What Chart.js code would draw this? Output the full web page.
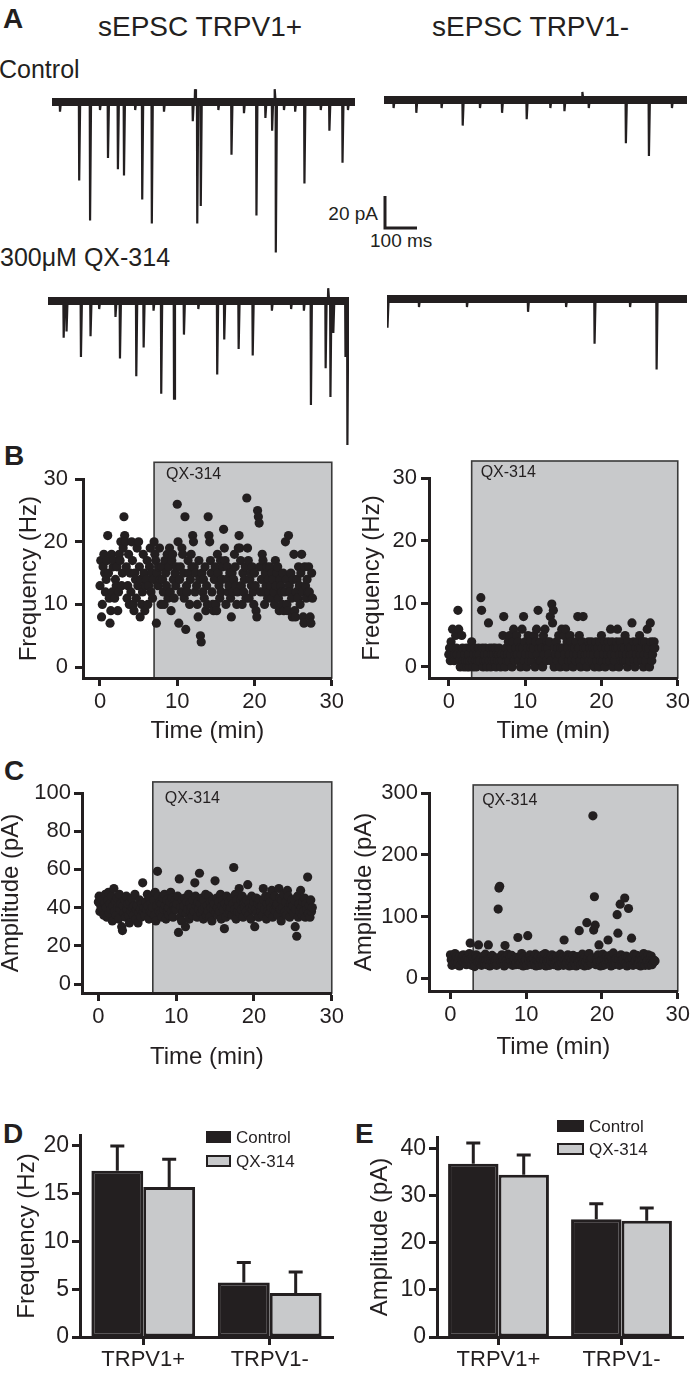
<!DOCTYPE html>
<html>
<head>
<meta charset="utf-8">
<script src="https://cdn.jsdelivr.net/npm/chart.js@4.4.1/dist/chart.umd.min.js"></script>
<style>
  html, body { margin: 0; padding: 0; background: #fff; overflow: hidden; }
  #page { position: relative; width: 693px; height: 1376px; overflow: hidden;
          font-family: "Liberation Sans", Arial, sans-serif; color: #231f20; }
  .lbl { position: absolute; line-height: 1; white-space: nowrap; }
  .panel { font-weight: bold; font-size: 28px; }
  canvas { position: absolute; }
</style>
</head>
<body>
<div id="page">
  <div class="lbl panel" style="left:3px;top:5px;">A</div>
  <div class="lbl" style="left:98px;top:13px;font-size:28px;">sEPSC TRPV1+</div>
  <div class="lbl" style="left:432px;top:13px;font-size:28px;">sEPSC TRPV1-</div>
  <div class="lbl" style="left:-1px;top:57px;font-size:25px;">Control</div>
  <div class="lbl" style="left:0px;top:245px;font-size:25px;">300μM QX-314</div>
  <div class="lbl" style="left:290px;top:204px;width:88px;text-align:right;font-size:19px;">20 pA</div>
  <div class="lbl" style="left:370px;top:231px;font-size:19px;">100 ms</div>
  <div class="lbl panel" style="left:4px;top:442px;">B</div>
  <div class="lbl panel" style="left:4px;top:757px;">C</div>
  <div class="lbl panel" style="left:3px;top:1120px;">D</div>
  <div class="lbl panel" style="left:355px;top:1120px;">E</div>

  <canvas id="traceCtrlPos" width="303" height="170" style="left:52px;top:87px;"></canvas>
  <canvas id="traceCtrlNeg" width="303" height="80" style="left:384px;top:85px;"></canvas>
  <canvas id="traceQxPos" width="301" height="165" style="left:48px;top:286px;"></canvas>
  <canvas id="traceQxNeg" width="300" height="90" style="left:387px;top:284px;"></canvas>
  <canvas id="scaleBar" width="45" height="42" style="left:380px;top:191px;"></canvas>

  <canvas id="freqPosChart" width="347" height="284" style="left:0px;top:459px;"></canvas>
  <canvas id="freqNegChart" width="346" height="285" style="left:347px;top:458px;"></canvas>
  <canvas id="ampPosChart" width="347" height="296" style="left:0px;top:773px;"></canvas>
  <canvas id="ampNegChart" width="346" height="286" style="left:347px;top:773px;"></canvas>

  <canvas id="freqBars" width="345" height="261" style="left:0px;top:1115px;"></canvas>
  <canvas id="ampBars" width="346" height="261" style="left:347px;top:1115px;"></canvas>
</div>

<script>
// ---- Panel A: sEPSC events [time (ms), amplitude (pA)], negative = upward blip ----
const ctrlPosEvents = [
  [25, 6], [85, 49], [119, 74], [150, 5], [175, 35], [206, 42], [225, 46], [260, 5],
  [282, 61], [312, 76], [350, 6], [440, 12], [447, -8], [454, 76], [465, 65], [520, 5],
  [561, 33], [600, 7], [639, 71], [667, 10], [688, 18], [696, -8], [700, 94], [725, 5],
  [760, 6], [789, 51], [840, 5], [867, 18], [908, 38], [925, 5]
];
const ctrlNegEvents = [
  [30, 5], [101, 8], [180, 5], [246, 16], [300, 5], [369, 8], [446, 12], [520, 5],
  [564, 7], [620, -5], [640, 5], [756, 27], [828, 35], [900, 5]
];
const qxPosEvents = [
  [49, 23], [58, 19], [103, 35], [133, 22], [160, 5], [211, 10], [225, 36], [276, 47],
  [299, 29], [330, 6], [354, 58], [394, 61], [425, 21], [470, 5], [529, 46], [551, 24],
  [596, 30], [640, 34], [700, 6], [760, 5], [800, 6], [822, 65], [868, 42], [876, -8],
  [883, 60], [892, 20], [930, 35], [936, 90]
];
const qxNegEvents = [
  [2, 18], [100, 5], [250, 5], [441, 8], [560, 5], [649, 28], [760, 5], [843, 44]
];
const traceDurations = { ctrlPos: 947, ctrlNeg: 947, qxPos: 941, qxNeg: 938 }; // ms
const scaleBarPA = 20;
const scaleBarMs = 100;

// ---- Panels B and C: time course, one value every 0.1 min ----
const sampleMin = 0.1;
const timeTicks = [0, 10, 20, 30];
const freqTicks = [0, 10, 20, 30];
const ampPosTicks = [0, 20, 40, 60, 80, 100];
const ampNegTicks = [0, 100, 200, 300];

const freqPos = [
  13,17,8,10,16,18,15,12,14,17, 21,15,11,7,9,18,12,16,17,11,
  14,13,16,9,12,18,17,20,13,15, 19,24,21,20,16,11,13,18,10,15,
  12,20,17,10,9,15,14,11,19,13, 20,16,8,14,10,12,18,15,9,13,
  14,17,10,13,16,19,12,15,11,14, 20,18,17,7,15,13,16,19,14,10,
  16,14,12,10,17,15,13,18,11,16, 19,12,9,17,18,14,11,15,13,16,
  26,20,7,14,16,12,19,18,15,11, 24,6,13,12,17,15,10,14,18,16,
  21,20,16,12,15,13,10,8,17,14, 5,4,15,12,14,11,16,9,13,10,
  24,21,20,17,15,12,10,9,14,16, 10,9,18,15,13,11,17,12,14,16,
  22,19,17,10,14,16,12,13,15,11, 8,15,12,14,18,16,13,10,12,19,
  21,19,17,13,10,15,12,14,16,11, 27,19,17,11,14,15,13,16,12,10,
  15,13,9,8,25,24,23,16,12,14, 18,17,12,10,15,13,16,11,14,12,
  16,13,11,15,14,12,10,17,13,15, 16,11,9,14,13,12,10,15,9,12,
  20,14,10,9,21,13,12,15,11,8, 14,18,9,8,12,14,11,16,13,10,
  15,18,12,8,7,16,13,11,14,12, 16,12,8,7,15,11
];
const freqNeg = [
  2,3,1,4,2,6,3,1,2,5, 3,2,9,6,1,0,2,5,3,1,
  0,2,1,3,0,1,2,0,1,3, 4,1,0,2,3,1,0,2,1,3,
  2,1,11,9,3,0,1,2,3,1, 0,2,7,1,3,0,2,1,3,2,
  1,3,0,2,1,2,3,1,0,2, 1,5,8,2,0,3,1,2,4,1,
  5,2,3,0,4,6,1,2,3,5, 2,4,1,3,0,2,6,3,8,1,
  4,2,0,3,5,1,2,4,3,1, 2,3,5,0,4,6,2,9,3,1,
  4,1,3,0,5,2,6,3,1,4, 3,2,4,8,1,10,7,9,0,3,
  2,4,1,3,5,2,0,3,6,1, 3,5,2,6,0,4,3,1,2,5,
  4,1,3,0,2,3,1,4,2,8, 3,5,1,0,2,4,8,3,1,2,
  3,0,2,4,1,3,2,4,1,3, 2,0,3,4,1,3,2,0,4,1,
  5,3,1,2,4,0,3,1,2,4, 3,1,6,2,4,0,3,1,2,3,
  4,6,3,0,2,4,1,3,2,1, 3,5,1,2,0,4,3,1,2,3,
  7,2,4,1,0,3,2,4,1,3, 5,2,3,1,4,0,2,4,1,3,
  6,2,3,0,7,4,1,2,3,4, 3
];
const ampPos = [
  43,46,38,41,45,39,44,36,42,47, 40,35,44,48,37,42,39,46,33,41,
  50,38,43,36,45,40,34,47,39,42, 30,28,41,37,44,35,46,39,42,36,
  32,43,38,45,40,36,41,47,34,39, 41,32,37,44,39,35,42,53,38,40,
  36,43,39,47,41,34,45,38,42,37, 40,44,36,48,33,41,59,46,38,43,
  37,42,35,45,39,47,41,34,44,38, 40,36,43,48,38,45,35,41,39,44,
  39,42,46,27,55,35,40,33,44,38, 41,45,30,37,43,39,47,34,42,38,
  40,36,44,38,53,46,41,35,43,39, 58,42,37,45,39,34,44,40,47,36,
  41,38,46,35,43,40,33,44,39,42, 54,37,45,40,36,43,38,47,34,41,
  44,39,29,42,35,46,40,37,43,38, 40,45,36,42,61,39,47,34,44,38,
  41,50,37,44,39,46,35,42,40,43, 38,44,52,36,42,40,34,46,39,41,
  43,30,39,45,37,42,35,44,40,38, 41,36,50,44,39,46,34,42,38,45,
  37,43,40,49,35,44,39,46,38,41, 42,36,50,45,39,33,44,40,47,37,
  38,43,36,49,46,40,35,42,39,44, 41,37,44,30,39,25,46,35,42,38,
  49,40,36,43,38,45,35,42,39,56, 37,41,35,44,38,40
];
const ampNeg = [
  38,30,21,33,28,24,40,27,35,22, 25,32,20,36,23,30,27,38,26,31,
  29,22,33,27,30,40,57,32,21,35, 31,27,19,30,38,33,26,54,29,24,
  32,21,35,26,30,24,39,29,22,31, 54,30,20,33,28,37,25,34,22,27,
  30,21,33,112,146,149,29,25,38,28, 31,20,53,34,29,23,39,24,30,35,
  28,37,21,30,27,31,22,26,34,66, 30,22,33,25,40,32,20,35,26,31,
  29,21,69,32,28,38,25,30,22,33, 31,24,39,20,30,28,36,25,21,32,
  29,37,22,31,28,40,20,30,27,34, 30,21,33,28,38,25,34,22,27,32,
  28,36,20,30,23,39,29,25,33,21, 62,30,22,33,25,38,32,20,34,26,
  31,21,37,29,24,32,20,35,30,26, 77,30,22,33,39,25,31,20,34,26,
  90,32,21,40,27,30,24,33,263,78, 132,86,22,31,27,38,54,28,20,26,
  30,39,21,31,28,23,36,29,62,32, 28,37,20,33,25,41,22,30,24,32,
  103,73,30,21,120,38,29,23,31,27, 130,24,36,20,34,113,29,31,22,65,
  33,21,39,26,28,30,37,22,31,25, 30,20,36,29,23,40,28,21,34,26,
  29,38,21,31,25,36,22,30,26,29, 28
];

// ---- Panels D and E: means and SEM ----
const groups = ["TRPV1+", "TRPV1-"];
const freqControl = [17.4, 5.7];
const freqControlErr = [2.6, 2.1];
const freqQx = [15.7, 4.6];
const freqQxErr = [2.9, 2.2];
const ampControl = [36.8, 25.0];
const ampControlErr = [4.4, 3.3];
const ampQx = [34.5, 24.7];
const ampQxErr = [4.2, 2.7];
const freqBarTicks = [0, 5, 10, 15, 20];
const ampBarTicks = [0, 10, 20, 30, 40];

// ---- styling ----
const dark = "#231f20";
const gray = "#c8c9cb";
const fontFamily = '"Liberation Sans", Arial, sans-serif';
const PX_PER_MS = 0.32;
const PX_PER_PA = 1.6;

Chart.defaults.font.family = fontFamily;
Chart.defaults.color = dark;
Chart.defaults.animation = false;

function fixedTicks(list) {
  return scale => { scale.ticks = list.map(v => ({ value: v })); };
}

function axisLines(tickSize, tickPad) {
  return {
    border: { display: true, color: dark, width: 3 },
    grid: { display: true, drawOnChartArea: false, drawTicks: true, tickLength: 8,
            tickWidth: 3, tickColor: dark, color: dark, offset: false },
    ticks: { color: dark, font: { size: tickSize }, padding: tickPad,
             maxRotation: 0, autoSkip: false }
  };
}

// --- Traces ---
function traceChart(id, events, durationMs) {
  const canvas = document.getElementById(id);
  const pts = [{ x: 0, y: 0 }];
  [...events].sort((a, b) => a[0] - b[0]).forEach(([t, amp]) => {
    pts.push({ x: t - 1, y: 0 }, { x: t, y: -amp }, { x: t + 3, y: 0 });
  });
  pts.push({ x: durationMs, y: 0 });
  const yMax = 15 / PX_PER_PA; // baseline sits 15 px below top
  new Chart(canvas, {
    type: "line",
    data: {
      datasets: [
        { data: [{ x: 0, y: 0 }, { x: durationMs, y: 0 }], borderColor: dark, borderWidth: 8, pointRadius: 0 },
        { data: pts, borderColor: dark, borderWidth: 2.2, pointRadius: 0 }
      ]
    },
    options: {
      responsive: false,
      layout: { padding: 0 },
      plugins: { legend: { display: false }, tooltip: { enabled: false } },
      scales: {
        x: { type: "linear", display: false, min: 0, max: durationMs },
        y: { display: false, min: yMax - canvas.height / PX_PER_PA, max: yMax }
      }
    }
  });
}

traceChart("traceCtrlPos", ctrlPosEvents, traceDurations.ctrlPos);
traceChart("traceCtrlNeg", ctrlNegEvents, traceDurations.ctrlNeg);
traceChart("traceQxPos", qxPosEvents, traceDurations.qxPos);
traceChart("traceQxNeg", qxNegEvents, traceDurations.qxNeg);

// scale bar: corner 5 px from left, 37 px from top
(function () {
  const canvas = document.getElementById("scaleBar");
  const xMin = -5 / PX_PER_MS;
  const yMax = 37 / PX_PER_PA;
  new Chart(canvas, {
    type: "line",
    data: {
      datasets: [{
        data: [{ x: 0, y: scaleBarPA }, { x: 0, y: 0 }, { x: scaleBarMs, y: 0 }],
        borderColor: dark, borderWidth: 3, pointRadius: 0, borderJoinStyle: "miter"
      }]
    },
    options: {
      responsive: false,
      layout: { padding: 0 },
      plugins: { legend: { display: false }, tooltip: { enabled: false } },
      scales: {
        x: { type: "linear", display: false, min: xMin, max: xMin + canvas.width / PX_PER_MS },
        y: { display: false, min: yMax - canvas.height / PX_PER_PA, max: yMax }
      }
    }
  });
})();

// --- QX-314 shaded box ---
const qxBoxPlugin = {
  id: "qxBox",
  beforeDraw(chart, args, o) {
    const { ctx, chartArea, scales: { x, y } } = chart;
    const left = x.getPixelForValue(o.start);
    const right = x.getPixelForValue(o.end);
    const top = y.getPixelForValue(o.top);
    const bottom = chartArea.bottom;
    ctx.save();
    ctx.fillStyle = gray;
    ctx.fillRect(left, top, right - left, bottom - top);
    ctx.strokeStyle = "#3a3a3a";
    ctx.lineWidth = 1.6;
    ctx.strokeRect(left, top, right - left, bottom - top);
    ctx.fillStyle = dark;
    ctx.font = "16px " + fontFamily;
    ctx.textBaseline = "top";
    ctx.fillText(o.label, left + o.dx, top + o.dy);
    ctx.restore();
  }
};

function timeCourse(id, values, o) {
  const points = values.map((v, i) => ({ x: i * sampleMin, y: v }));
  const xAxis = axisLines(22, 3);
  const yAxis = axisLines(22, o.yTickPad);
  new Chart(document.getElementById(id), {
    type: "scatter",
    data: {
      datasets: [{ data: points, pointRadius: 4.6, pointBackgroundColor: dark,
                   pointBorderWidth: 0, pointBorderColor: dark }]
    },
    options: {
      responsive: false,
      layout: { padding: { top: 20, right: o.padRight, left: 0, bottom: 0 } },
      plugins: {
        legend: { display: false },
        tooltip: { enabled: false },
        qxBox: { start: o.qxStart, end: 30, top: o.boxTop, label: "QX-314", dx: o.labelDx, dy: o.labelDy }
      },
      scales: {
        x: Object.assign(xAxis, {
          type: "linear", min: o.xMin, max: 30,
          afterBuildTicks: fixedTicks(timeTicks),
          afterFit: s => { s.height = o.xAxisHeight; },
          title: { display: true, text: "Time (min)", color: dark,
                   font: { size: 24, lineHeight: 1 }, padding: 0 }
        }),
        y: Object.assign(yAxis, {
          type: "linear", min: o.yMin, max: o.yMax,
          afterBuildTicks: fixedTicks(o.yTicks),
          afterFit: s => { s.width = o.yAxisWidth; },
          title: { display: true, text: o.yTitle, color: dark,
                   font: { size: 24, lineHeight: 1 }, padding: { top: o.yTitlePad, bottom: 0 } }
        })
      }
    },
    plugins: [qxBoxPlugin]
  });
}

timeCourse("freqPosChart", freqPos, {
  xMin: -2.2, yMin: -1.75, yMax: 30, yTicks: freqTicks, yTitle: "Frequency (Hz)",
  qxStart: 7, boxTop: 32.7, labelDx: 12, labelDy: 4,
  yAxisWidth: 83, xAxisHeight: 65, padRight: 14, yTitlePad: 17, yTickPad: 7
});
timeCourse("freqNegChart", freqNeg, {
  xMin: -2.59, yMin: -1.75, yMax: 30, yTicks: freqTicks, yTitle: "Frequency (Hz)",
  qxStart: 3, boxTop: 32.7, labelDx: 9, labelDy: 4,
  yAxisWidth: 82, xAxisHeight: 65, padRight: 12, yTitlePad: 13, yTickPad: 4
});
timeCourse("ampPosChart", ampPos, {
  xMin: -2.1, yMin: -4.7, yMax: 100, yTicks: ampPosTicks, yTitle: "Amplitude (pA)",
  qxStart: 7, boxTop: 105.8, labelDx: 12, labelDy: 9,
  yAxisWidth: 82, xAxisHeight: 76, padRight: 14, yTitlePad: -1, yTickPad: 3
});
timeCourse("ampNegChart", ampNeg, {
  xMin: -2.83, yMin: -20.6, yMax: 300, yTicks: ampNegTicks, yTitle: "Amplitude (pA)",
  qxStart: 3, boxTop: 313, labelDx: 9, labelDy: 8,
  yAxisWidth: 82, xAxisHeight: 68, padRight: 12, yTitlePad: 5, yTickPad: 3
});

// --- Bar charts with error bars ---
const errorBarPlugin = {
  id: "errorBars",
  afterDatasetsDraw(chart) {
    const { ctx, scales: { y } } = chart;
    ctx.save();
    ctx.strokeStyle = dark;
    ctx.lineWidth = 3;
    chart.data.datasets.forEach((ds, i) => {
      chart.getDatasetMeta(i).data.forEach((bar, j) => {
        const top = y.getPixelForValue(ds.data[j] + ds.errors[j]);
        ctx.beginPath();
        ctx.moveTo(bar.x, bar.y);
        ctx.lineTo(bar.x, top);
        ctx.moveTo(bar.x - 7, top);
        ctx.lineTo(bar.x + 7, top);
        ctx.stroke();
      });
    });
    ctx.restore();
  }
};

const barLegendPlugin = {
  id: "barLegend",
  afterDraw(chart, args, o) {
    const ctx = chart.ctx;
    ctx.save();
    chart.data.datasets.forEach((ds, i) => {
      const cy = o.y + i * o.gap;
      ctx.fillStyle = ds.backgroundColor;
      ctx.fillRect(o.x, cy - 5, o.w, 10);
      ctx.strokeStyle = dark;
      ctx.lineWidth = 2;
      ctx.strokeRect(o.x, cy - 5, o.w, 10);
      ctx.fillStyle = dark;
      ctx.font = "17px " + fontFamily;
      ctx.textBaseline = "middle";
      ctx.fillText(ds.label, o.x + o.w + 6, cy + 1);
    });
    ctx.restore();
  }
};

function barPanel(id, control, controlErr, qx, qxErr, o) {
  const xAxis = axisLines(22, 2);
  const yAxis = axisLines(23, 3);
  new Chart(document.getElementById(id), {
    type: "bar",
    data: {
      labels: groups,
      datasets: [
        { label: "Control", data: control, errors: controlErr, backgroundColor: dark,
          borderColor: dark, borderWidth: 3, borderSkipped: false,
          categoryPercentage: 0.82, barPercentage: 1 },
        { label: "QX-314", data: qx, errors: qxErr, backgroundColor: gray,
          borderColor: dark, borderWidth: 3, borderSkipped: false,
          categoryPercentage: 0.82, barPercentage: 1 }
      ]
    },
    options: {
      responsive: false,
      layout: { padding: { top: o.padTop, right: o.padRight, left: 0, bottom: 0 } },
      plugins: {
        legend: { display: false },
        tooltip: { enabled: false },
        barLegend: { x: o.legendX, y: o.legendY, gap: o.legendGap, w: o.legendW }
      },
      scales: {
        x: Object.assign(xAxis, {
          afterFit: s => { s.height = o.xAxisHeight; }
        }),
        y: Object.assign(yAxis, {
          min: 0, max: o.yMax,
          afterBuildTicks: fixedTicks(o.yTicks),
          afterFit: s => { s.width = o.yAxisWidth; },
          title: { display: true, text: o.yTitle, color: dark,
                   font: { size: 24, lineHeight: 1 }, padding: { top: o.yTitlePad, bottom: 0 } }
        })
      }
    },
    plugins: [errorBarPlugin, barLegendPlugin]
  });
}

barPanel("freqBars", freqControl, freqControlErr, freqQx, freqQxErr, {
  yMax: 21.15, yTicks: freqBarTicks, yTitle: "Frequency (Hz)",
  padTop: 20, padRight: 12, yAxisWidth: 80, xAxisHeight: 39, yTitlePad: 15,
  legendX: 207, legendY: 22, legendGap: 24, legendW: 23
});
barPanel("ampBars", ampControl, ampControlErr, ampQx, ampQxErr, {
  yMax: 42.5, yTicks: ampBarTicks, yTitle: "Amplitude (pA)",
  padTop: 22, padRight: 10, yAxisWidth: 90, xAxisHeight: 39, yTitlePad: 21,
  legendX: 211, legendY: 11, legendGap: 23, legendW: 25
});
</script>
</body>
</html>
